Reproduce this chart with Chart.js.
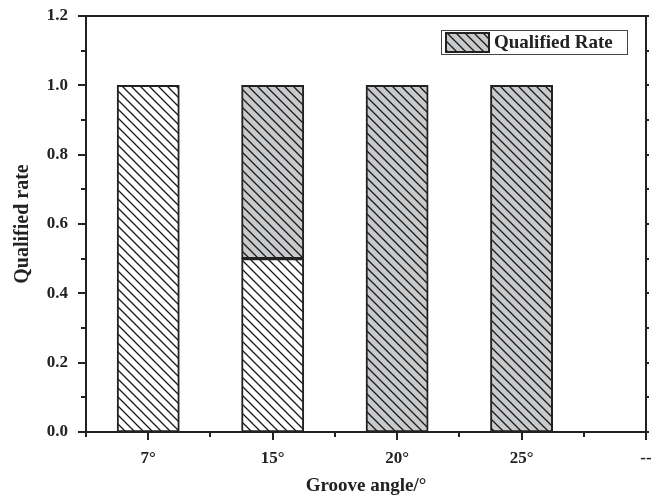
<!DOCTYPE html>
<html>
<head>
<meta charset="utf-8">
<script src="https://cdn.jsdelivr.net/npm/chart.js@4/dist/chart.umd.min.js"></script>
<style>
  html, body { margin: 0; padding: 0; background: #fff; }
</style>
</head>
<body>
<canvas id="chart" width="652" height="495"></canvas>
<script>
// groove angles along x, and the share of each part per angle
const categories = ['7°', '15°', '20°', '25°', '--'];
const unqualifiedPart = [1.0, 0.5, null, null, null];
const qualifiedPart = [null, 0.5, 1.0, 1.0, null];
const yTickLabels = ['0.0', '0.2', '0.4', '0.6', '0.8', '1.0', '1.2'];

const FONT = '"Liberation Serif", "Times New Roman", serif';
const INK = '#222';
const GRAY = '#c9cacc';

function hatch(bg) {
  const s = 9;
  const c = document.createElement('canvas');
  c.width = s; c.height = s;
  const g = c.getContext('2d');
  g.fillStyle = bg;
  g.fillRect(0, 0, s, s);
  g.strokeStyle = '#1a1a1a';
  g.lineWidth = 1.3;
  g.beginPath();
  g.moveTo(0, 0); g.lineTo(s, s);
  g.moveTo(-2, s - 2); g.lineTo(2, s + 2);
  g.moveTo(s - 2, -2); g.lineTo(s + 2, 2);
  g.stroke();
  return g.createPattern(c, 'repeat');
}

const toPoints = arr => arr.map((v, i) => ({ x: i + 1, y: v }));

// frame, tick marks and legend box drawn on top of the bars
const framePlugin = {
  id: 'frame',
  afterDraw(chart) {
    const { ctx, chartArea: a, scales } = chart;
    const xs = scales.x, ys = scales.y;
    ctx.save();
    ctx.strokeStyle = INK;
    ctx.lineWidth = 2;
    ctx.strokeRect(a.left, a.top, a.right - a.left, a.bottom - a.top);

    ctx.beginPath();
    for (let i = 0; i <= 12; i++) {
      const y = Math.round(ys.getPixelForValue(i / 10));
      const len = i % 2 === 0 ? 8 : 5;
      ctx.moveTo(a.left - len, y); ctx.lineTo(a.left, y);
      ctx.moveTo(a.right, y); ctx.lineTo(a.right + 3, y);
    }
    for (let i = 1; i <= 10; i++) {
      const x = Math.round(xs.getPixelForValue(i / 2));
      const len = i % 2 === 0 ? 8 : 5;
      ctx.moveTo(x, a.bottom); ctx.lineTo(x, a.bottom + len);
    }
    ctx.stroke();

    // legend
    const ds = chart.data.datasets[1];
    const bx = a.right - 205, by = a.top + 14, bw = 186, bh = 24;
    ctx.lineWidth = 1;
    ctx.strokeStyle = '#444';
    ctx.strokeRect(bx + 0.5, by + 0.5, bw, bh);
    ctx.fillStyle = ds.backgroundColor;
    ctx.fillRect(bx + 5, by + 3, 43, 19);
    ctx.lineWidth = 2;
    ctx.strokeStyle = INK;
    ctx.strokeRect(bx + 5, by + 3, 43, 19);
    ctx.fillStyle = INK;
    ctx.font = 'bold 19px ' + FONT;
    ctx.textBaseline = 'middle';
    ctx.fillText(ds.label, bx + 53, by + bh / 2 + 1);
    ctx.restore();
  }
};

new Chart(document.getElementById('chart'), {
  type: 'bar',
  data: {
    datasets: [
      {
        label: 'Unqualified',
        data: toPoints(unqualifiedPart),
        backgroundColor: hatch('#ffffff'),
        borderColor: INK,
        borderWidth: 2,
        borderSkipped: false
      },
      {
        label: 'Qualified Rate',
        data: toPoints(qualifiedPart),
        backgroundColor: hatch(GRAY),
        borderColor: INK,
        borderWidth: 2,
        borderSkipped: false
      }
    ]
  },
  options: {
    responsive: false,
    animation: false,
    layout: { padding: { top: 16, right: 6, left: 0, bottom: 0 } },
    // ruler step is the 0.5 tick spacing, so a full-width bar is half a category
    datasets: { bar: { categoryPercentage: 1, barPercentage: 1 } },
    plugins: { legend: { display: false }, tooltip: { enabled: false } },
    scales: {
      x: {
        type: 'linear',
        stacked: true,
        offset: false,
        min: 0.5,
        max: 5,
        grid: { display: false, drawTicks: false },
        border: { display: false },
        afterFit: s => { s.height = 63; s.paddingLeft = 0; s.paddingRight = 0; },
        ticks: {
          stepSize: 0.5,
          autoSkip: false,
          maxRotation: 0,
          padding: 16,
          color: INK,
          font: { family: FONT, size: 17, weight: 'bold' },
          callback: v => Number.isInteger(v) ? categories[v - 1] : ''
        },
        title: {
          display: true,
          text: 'Groove angle/°',
          color: INK,
          padding: { top: 0, bottom: -1 },
          font: { family: FONT, size: 19, weight: 'bold', lineHeight: 1 }
        }
      },
      y: {
        stacked: true,
        min: 0,
        max: 1.2,
        grid: { display: false, drawTicks: false },
        border: { display: false },
        afterFit: s => { s.width = 86; s.paddingTop = 0; s.paddingBottom = 0; },
        ticks: {
          stepSize: 0.1,
          autoSkip: false,
          padding: 18,
          color: INK,
          font: { family: FONT, size: 17, weight: 'bold' },
          callback: v => {
            const k = Math.round(v * 10);
            return k % 2 === 0 ? yTickLabels[k / 2] : '';
          }
        },
        title: {
          display: true,
          text: 'Qualified rate',
          color: INK,
          padding: { top: 11, bottom: 0 },
          font: { family: FONT, size: 20, weight: 'bold' }
        }
      }
    }
  },
  plugins: [framePlugin]
});
</script>
</body>
</html>
